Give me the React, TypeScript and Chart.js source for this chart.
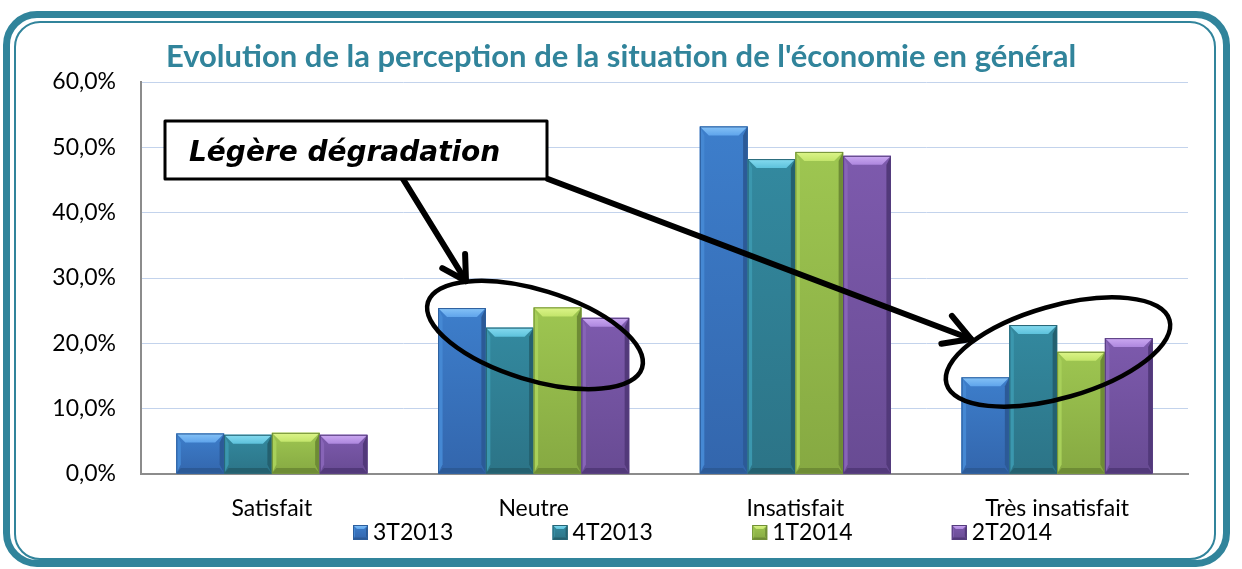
import React, { useEffect, useRef } from "react";
import { Chart, registerables } from "chart.js";
Chart.register(...registerables);

const categories = ["Satisfait", "Neutre", "Insatisfait", "Très insatisfait"];
const seriesLabels = ["3T2013", "4T2013", "1T2014", "2T2014"];
const values3T2013 = [6.2, 25.4, 53.2, 14.8];
const values4T2013 = [6.0, 22.4, 48.2, 22.8];
const values1T2014 = [6.3, 25.5, 49.3, 18.7];
const values2T2014 = [6.0, 23.9, 48.7, 20.8];
const yTicks = [0, 10, 20, 30, 40, 50, 60];
const yTickLabels = ["0,0%", "10,0%", "20,0%", "30,0%", "40,0%", "50,0%", "60,0%"];
const chartTitle = "Evolution de la perception de la situation de l'économie en général";
const calloutText = "Légère dégradation";

const seriesValues = [values3T2013, values4T2013, values1T2014, values2T2014];

const FONT = "Lato, 'Liberation Sans', sans-serif";
const TEAL = "#31849B";

const palettes = [
  { face: "#3D7ECB", faceDark: "#3366AD", top: "#5FA4EB", topEdge: "#86C3F7", side: "#4588D3", dark: "#2C5A97", outline: "#2D5E9C" },
  { face: "#33899F", faceDark: "#2C7487", top: "#5DC2DC", topEdge: "#86DBF0", side: "#3B97AE", dark: "#24606F", outline: "#266475" },
  { face: "#9EC651", faceDark: "#86A942", top: "#C3E56B", topEdge: "#DDF58A", side: "#A8D05A", dark: "#6E8C35", outline: "#718F37" },
  { face: "#7D5AAD", faceDark: "#684B93", top: "#AD87DE", topEdge: "#CCA9F2", side: "#8764B7", dark: "#52397A", outline: "#553C7D" },
];

function poly(ctx: CanvasRenderingContext2D, pts: number[][], fill: any) {
  ctx.beginPath();
  ctx.moveTo(pts[0][0], pts[0][1]);
  for (let i = 1; i < pts.length; i++) ctx.lineTo(pts[i][0], pts[i][1]);
  ctx.closePath();
  ctx.fillStyle = fill;
  ctx.fill();
}

function drawBevelBox(ctx: CanvasRenderingContext2D, L: number, T: number, R: number, B: number, pal: any, bv: number) {
  const b = Math.min(bv, (B - T) / 2, (R - L) / 2);
  ctx.save();
  const g = ctx.createLinearGradient(0, T, 0, B);
  g.addColorStop(0, pal.face);
  g.addColorStop(1, pal.faceDark);
  ctx.fillStyle = g;
  ctx.fillRect(L, T, R - L, B - T);
  poly(ctx, [[L, T], [L + b * 0.5, T + b], [L + b * 0.5, B - b], [L, B]], pal.side);
  poly(ctx, [[R, T], [R - b * 0.5, T + b], [R - b * 0.5, B - b], [R, B]], pal.dark);
  poly(ctx, [[L, B], [L + b * 0.5, B - b * 0.6], [R - b * 0.5, B - b * 0.6], [R, B]], pal.dark);
  const tg = ctx.createLinearGradient(0, T, 0, T + b);
  tg.addColorStop(0, pal.topEdge);
  tg.addColorStop(1, pal.top);
  poly(ctx, [[L, T], [R, T], [R - b, T + b], [L + b, T + b]], tg);
  ctx.strokeStyle = pal.outline;
  ctx.lineWidth = 1;
  ctx.strokeRect(L + 0.5, T + 0.5, R - L - 1, B - T - 1);
  ctx.restore();
}

const bevelPlugin = {
  id: "bevel",
  afterDatasetsDraw(chart: any) {
    const ctx = chart.ctx;
    chart.data.datasets.forEach((_ds: any, di: number) => {
      const meta = chart.getDatasetMeta(di);
      const pal = palettes[di];
      meta.data.forEach((el: any) => {
        const p = el.getProps(["x", "y", "base", "width"], true);
        const L = p.x - p.width / 2;
        const R = p.x + p.width / 2;
        const T = Math.min(p.y, p.base);
        const B = Math.max(p.y, p.base);
        drawBevelBox(ctx, L, T, R, B, pal, 9);
      });
    });
  },
};

function arrow(ctx: CanvasRenderingContext2D, x1: number, y1: number, x2: number, y2: number, head: number) {
  const ang = Math.atan2(y2 - y1, x2 - x1);
  ctx.beginPath();
  ctx.moveTo(x1, y1);
  ctx.lineTo(x2, y2);
  ctx.stroke();
  ctx.beginPath();
  ctx.moveTo(x2 + head * Math.cos(ang + Math.PI - 0.52), y2 + head * Math.sin(ang + Math.PI - 0.52));
  ctx.lineTo(x2, y2);
  ctx.lineTo(x2 + head * Math.cos(ang + Math.PI + 0.52), y2 + head * Math.sin(ang + Math.PI + 0.52));
  ctx.stroke();
}

const overlayPlugin = {
  id: "overlay",
  afterDraw(chart: any) {
    const ctx: CanvasRenderingContext2D = chart.ctx;
    ctx.save();
    // legend
    const legX0 = 353;
    const legStep = 199.6;
    chart.data.datasets.forEach((ds: any, i: number) => {
      const x = legX0 + i * legStep;
      drawBevelBox(ctx, x, 525, x + 15, 540, palettes[i], 4);
      ctx.fillStyle = "#000";
      ctx.font = `23px ${FONT}`;
      ctx.textBaseline = "middle";
      ctx.textAlign = "left";
      ctx.fillText(ds.label, x + 20, 533);
    });

    // ellipses
    ctx.strokeStyle = "#000";
    ctx.lineWidth = 4.5;
    ctx.beginPath();
    ctx.ellipse(535, 335, 112, 45, (17 * Math.PI) / 180, 0, Math.PI * 2);
    ctx.stroke();
    ctx.beginPath();
    ctx.ellipse(1058, 352, 116, 46, (-16 * Math.PI) / 180, 0, Math.PI * 2);
    ctx.stroke();

    // arrows
    ctx.lineWidth = 6;
    ctx.lineCap = "round";
    ctx.lineJoin = "round";
    arrow(ctx, 403, 179, 466, 281, 27);
    arrow(ctx, 548, 179, 971, 339, 30);

    // callout box
    ctx.fillStyle = "#fff";
    ctx.fillRect(165, 121, 382, 58);
    ctx.lineWidth = 3;
    ctx.lineCap = "butt";
    ctx.strokeStyle = "#000";
    ctx.strokeRect(165, 121, 382, 58);
    ctx.fillStyle = "#000";
    ctx.font = `italic bold 28px 'DejaVu Sans', sans-serif`;
    ctx.textBaseline = "alphabetic";
    ctx.textAlign = "left";
    ctx.fillText(calloutText, 189, 161);
    ctx.restore();
  },
};

export default function App() {
  const ref = useRef<HTMLCanvasElement | null>(null);
  useEffect(() => {
    if (!ref.current) return;
    const chart = new Chart(ref.current, {
      type: "bar",
      data: {
        labels: categories,
        datasets: seriesLabels.map((label, i) => ({
          label,
          data: seriesValues[i],
          backgroundColor: palettes[i].face,
          borderWidth: 0,
          categoryPercentage: 0.73,
          barPercentage: 1.0,
        })),
      },
      options: {
        responsive: false,
        maintainAspectRatio: false,
        animation: false,
        layout: { padding: 0 },
        plugins: {
          legend: { display: false },
          tooltip: { enabled: false },
          title: {
            display: true,
            text: chartTitle,
            color: TEAL,
            font: { family: FONT, size: 31, weight: "bold", lineHeight: 1.2 },
            padding: { top: 38.4, bottom: 6.4 },
          },
        },
        scales: {
          x: {
            grid: { display: false, drawTicks: false },
            border: { display: true, color: "#8C8C8C", width: 2 },
            ticks: { color: "#000", font: { family: FONT, size: 23 }, padding: 21, maxRotation: 0 },
            afterFit: (s: any) => {
              s.height = 95;
            },
          },
          y: {
            min: 0,
            max: 60,
            afterBuildTicks: (s: any) => {
              s.ticks = yTicks.map((v) => ({ value: v }));
            },
            ticks: {
              color: "#000",
              font: { family: FONT, size: 23 },
              padding: 25,
              callback: (v: any) => {
                const idx = yTicks.indexOf(Number(v));
                return idx >= 0 ? yTickLabels[idx] : "";
              },
            },
            grid: { color: "#C3D3EC", lineWidth: 1, drawTicks: false },
            border: { display: true, color: "#8C8C8C", width: 2 },
            afterFit: (s: any) => {
              s.width = 141;
            },
          },
          yR: {
            position: "right",
            display: true,
            grid: { display: false, drawTicks: false },
            border: { display: false },
            ticks: { display: false },
            afterFit: (s: any) => {
              s.width = 54;
            },
          },
        },
      } as any,
      plugins: [bevelPlugin, overlayPlugin],
    });
    return () => chart.destroy();
  }, []);

  return (
    <div style={{ position: "fixed", left: 0, top: 0, width: 1242, height: 569, background: "#fff", overflow: "hidden" }}>
      <div
        style={{
          position: "absolute",
          left: 3,
          top: 11,
          width: 1227,
          height: 556,
          border: `7px solid ${TEAL}`,
          borderRadius: 34,
          boxSizing: "border-box",
        }}
      />
      <div
        style={{
          position: "absolute",
          left: 14,
          top: 21,
          width: 1202,
          height: 539,
          border: `2px solid ${TEAL}`,
          borderRadius: 26,
          boxSizing: "border-box",
        }}
      />
      <canvas ref={ref} width={1242} height={569} style={{ position: "absolute", left: 0, top: 0, width: 1242, height: 569 }} />
    </div>
  );
}
